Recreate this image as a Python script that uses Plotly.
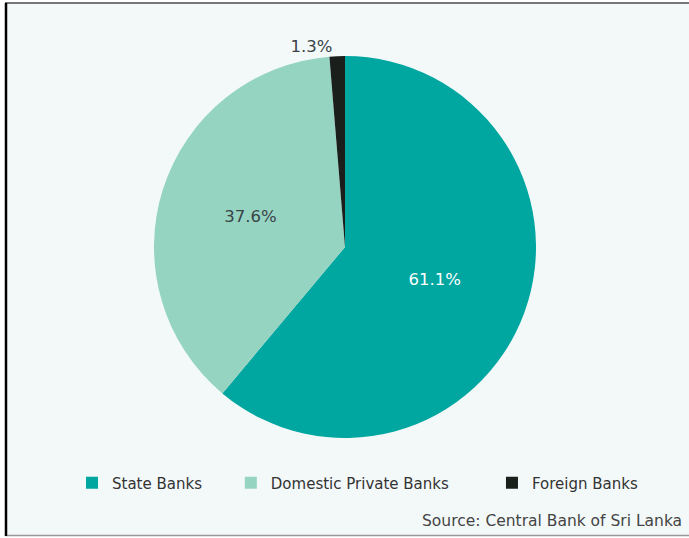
import plotly.graph_objects as go

labels = ["State Banks", "Domestic Private Banks", "Foreign Banks"]
values = [61.1, 37.6, 1.3]
text_labels = ["61.1%", "37.6%", "1.3%"]
colors = ["#00A6A0", "#96D4C2", "#1A1F1C"]
text_colors = ["#FFFFFF", "#3A4448", "#3A4448"]
positions = ["inside", "inside", "outside"]
# trailing non-breaking spaces only widen the legend gaps
legend_pad = [5, 8, 0]

W, H = 689, 538
cx, cy, r = 345, 247, 191
FONT = "DejaVu Sans"

legend_labels = [lab + "\u00a0" * p for lab, p in zip(labels, legend_pad)]

fig = go.Figure(go.Pie(
    labels=legend_labels, values=values, text=text_labels, customdata=labels,
    texttemplate="%{text}", textposition=positions,
    insidetextorientation="horizontal",
    sort=False, direction="clockwise", rotation=0,
    marker=dict(colors=colors, line=dict(width=0)),
    textfont=dict(size=16.5, color=text_colors, family=FONT),
    outsidetextfont=dict(size=16.5, color="#3A4448", family=FONT),
    domain=dict(x=[(cx - r) / W, (cx + r) / W], y=[1 - (cy + r) / H, 1 - (cy - r) / H]),
    hovertemplate="%{customdata}: %{text}<extra></extra>",
))

def px(x):
    return x / W

def py(y):
    return 1 - y / H

shapes = [
    dict(type="rect", xref="paper", yref="paper", x0=px(5), x1=px(689), y0=py(535), y1=py(3),
         fillcolor="#F3F9F9", line=dict(width=0), layer="below"),
    dict(type="line", xref="paper", yref="paper", x0=px(5), x1=px(689), y0=py(3), y1=py(3),
         line=dict(color="#777777", width=2)),
    dict(type="line", xref="paper", yref="paper", x0=px(5), x1=px(689), y0=py(535.5), y1=py(535.5),
         line=dict(color="#999999", width=1.5)),
    dict(type="line", xref="paper", yref="paper", x0=px(6), x1=px(6), y0=py(536), y1=py(3),
         line=dict(color="#000000", width=2.5)),
]

fig.update_layout(
    width=W, height=H,
    margin=dict(l=0, r=0, t=0, b=0),
    paper_bgcolor="#FFFFFF",
    plot_bgcolor="rgba(0,0,0,0)",
    shapes=shapes,
    showlegend=True,
    legend=dict(orientation="h", x=px(72), y=py(483), xanchor="left", yanchor="middle",
                font=dict(size=15, color="#333333", family=FONT),
                bgcolor="rgba(0,0,0,0)", itemwidth=30, tracegroupgap=0),
    annotations=[dict(text="Source: Central Bank of Sri Lanka", xref="paper", yref="paper",
                      x=px(684), y=py(521), xanchor="right", yanchor="middle", showarrow=False,
                      font=dict(size=15.5, color="#444444", family=FONT))],
)

fig.write_html("out.html", config={"displayModeBar": False},
               post_script="document.body.style.margin='0';document.body.style.overflow='hidden';")
